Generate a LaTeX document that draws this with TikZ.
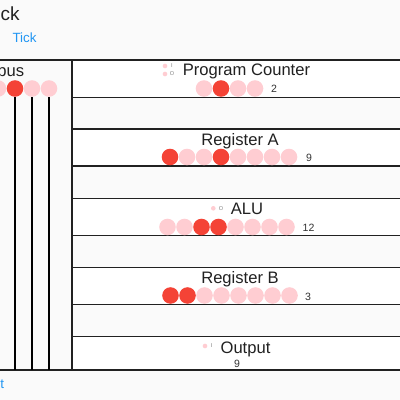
\documentclass[tikz,border=0pt]{standalone}
\usepackage{fontspec}
\setmainfont{Liberation Sans}
\usepackage{xcolor}
\usetikzlibrary{positioning}
\definecolor{bitred}{HTML}{F44336}
\definecolor{bitpink}{HTML}{FFCDD2}
\definecolor{linkblue}{HTML}{2196F3}
\definecolor{pagebg}{HTML}{FAFAFA}
\definecolor{inkdark}{HTML}{212121}

\begin{document}
\begin{tikzpicture}[x=0.025cm, y=-0.025cm,
  bit0/.style={circle, inner sep=0pt, minimum size=11.8pt, fill=bitpink},
  bit1/.style={bit0, fill=bitred},
  rowbox/.style={draw=inkdark, line width=0.9pt, fill=white},
  frame/.style={draw=inkdark, line width=0.9pt},
  wire/.style={draw=black, line width=0.9pt},
  title/.style={font=\fontsize{11.8}{13}\selectfont, text=inkdark,
                inner sep=0pt, anchor=base},
  val/.style={font=\fontsize{7.5}{9}\selectfont, text=black!80,
              inner sep=0pt, anchor=base},
  pin/.style={circle, inner sep=0pt, minimum size=3.3pt, fill=bitpink},
  pinlbl/.style={font=\fontsize{4}{5}\selectfont, text=gray, inner sep=0pt},
  link/.style={font=\fontsize{9.5}{11}\selectfont, text=linkblue,
               inner sep=0pt, anchor=base}
]
  \useasboundingbox (0,0) rectangle (400,400);
  \clip (0,0) rectangle (400,400);
  \fill[pagebg] (0,0) rectangle (400,400);

  % header
  \node[font=\fontsize{13.5}{15}\selectfont, text=inkdark, inner sep=0pt,
        anchor=base west] (clocktitle) at (0.3,21) {ck};
  \node[link] (tick) at (24.5,43) {Tick};
  \node[link, anchor=base west] (reset) at (0,388) {t};

  % panels
  \draw[rowbox] (72,60)    rectangle (405,97.3);
  \draw[rowbox] (72,129)   rectangle (405,166);
  \draw[rowbox] (72,198.3) rectangle (405,235.7);
  \draw[rowbox] (72,267.3) rectangle (405,304.3);
  \draw[rowbox] (72,336.7) rectangle (405,370);
  \draw[frame] (-5,60) rectangle (72,370);
  \draw[frame] (72,370) -- (405,370);

  % bus
  \node[title, anchor=base east] (bustitle) at (24.5,76.5) {bus};
  \foreach \s [count=\i from 0] in {0,1,0,0}
    \node[bit\s] (bus\i) at (-2+17*\i,88.5) {};
  \coordinate (busend) at (0,370);
  \foreach \i in {1,2,3}
    \draw[wire] (bus\i.south) -- (bus\i.south |- busend);

  % program counter
  \node[title] (pctitle) at (246.5,76) {Program Counter};
  \node[pin] (pcin)  at (165,66) {};
  \node[pin] (pcout) at (165,74) {};
  \node[pinlbl] (pcinlbl)  at (172,66) {I};
  \node[pinlbl] (pcoutlbl) at (172,74) {O};
  \foreach \s [count=\i from 0] in {0,1,0,0}
    \node[bit\s] (pc\i) at (204+17*\i,88.5) {};
  \node[val] (pcval) at (274,92.5) {2};

  % register a
  \node[title] (ratitle) at (240,146) {Register A};
  \foreach \s [count=\i from 0] in {1,0,0,1,0,0,0,0}
    \node[bit\s] (ra\i) at (170+17*\i,157) {};
  \node[val] (raval) at (309,161.5) {9};

  % alu
  \node[title] (alutitle) at (247,214) {ALU};
  \node[pin] (aluout) at (213.3,208.3) {};
  \node[pinlbl] (aluoutlbl) at (221,208.3) {O};
  \foreach \s [count=\i from 0] in {0,0,1,1,0,0,0,0}
    \node[bit\s] (alu\i) at (167.5+17*\i,227) {};
  \node[val] (aluval) at (308.5,231) {12};

  % register b
  \node[title] (rbtitle) at (240,283) {Register B};
  \foreach \s [count=\i from 0] in {1,1,0,0,0,0,0,0}
    \node[bit\s] (rb\i) at (170.5+17*\i,295.5) {};
  \node[val] (rbval) at (308,300) {3};

  % output
  \node[title] (outtitle) at (245.5,353) {Output};
  \node[pin] (outin) at (205,346) {};
  \node[pinlbl] (outinlbl) at (211.7,346) {I};
  \node[val] (outval) at (237,367) {9};
\end{tikzpicture}
\end{document}
